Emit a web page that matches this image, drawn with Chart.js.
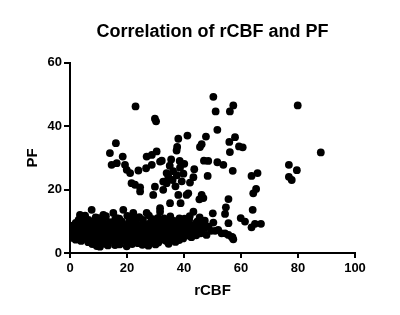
<!DOCTYPE html>
<html>
<head>
<meta charset="utf-8">
<script src="https://cdn.jsdelivr.net/npm/chart.js@4/dist/chart.umd.min.js"></script>
<style>
  body { margin: 0; background: #fff; }
  #wrap { width: 400px; height: 315px; }
</style>
</head>
<body>
<div id="wrap"><canvas id="scatterChart" width="400" height="315"></canvas></div>
<script>
// rCBF (x) vs PF (y), values as [rCBF, PF]

// dense band along the bottom
const bandPoints = [
    [3.5, 12.0], [7.6, 13.6], [11.7, 12.0], [15.2, 12.6], [18.7, 13.6], [22.2, 12.6], [26.9, 12.6], [31.6, 13.0],
    [5.3, 11.8], [9.0, 11.2], [12.6, 11.6], [16.4, 11.0], [20.1, 11.7], [24.3, 11.3], [27.7, 11.8], [30.9, 11.1],
    [35.2, 11.5], [38.4, 10.9], [42.0, 11.6], [45.5, 11.2],
    [4.4, 10.9], [10.1, 11.0], [17.3, 10.8], [22.6, 10.9], [29.1, 10.7], [33.0, 10.9], [40.2, 10.8],
    [3.0, 10.4], [6.5, 10.4], [8.7, 9.9], [11.3, 10.3], [13.9, 9.7], [15.8, 10.5], [18.2, 9.9], [20.9, 10.2],
    [23.1, 9.6], [25.6, 10.4], [28.4, 9.8], [31.2, 10.3], [33.7, 9.7], [36.5, 10.1], [39.3, 9.6], [41.8, 10.4],
    [44.6, 9.9], [47.3, 10.2],
    [2.0, 9.5], [4.4, 9.3], [6.6, 9.6], [9.1, 9.4], [11.4, 9.5], [13.6, 9.2], [16.0, 9.6], [18.4, 9.3],
    [21.0, 9.5], [23.3, 9.3], [25.7, 9.5], [28.1, 9.3], [30.7, 9.6], [33.1, 9.4], [35.8, 9.5], [38.5, 9.3],
    [41.4, 9.5], [44.2, 9.3], [46.9, 9.1],
    [0.8, 8.6], [3.0, 9.0], [5.4, 8.5], [7.9, 9.1], [10.2, 8.7], [12.5, 9.2], [14.7, 8.4], [17.1, 8.9],
    [19.6, 8.6], [22.2, 9.1], [24.4, 8.5], [26.9, 8.8], [29.5, 9.2], [32.1, 8.6], [34.6, 8.9], [37.2, 8.4],
    [40.1, 9.0], [42.9, 8.6], [45.8, 8.8], [48.6, 8.3],
    [1.8, 8.0], [4.0, 8.2], [6.4, 7.9], [8.8, 8.3], [11.1, 8.0], [13.4, 8.2], [15.8, 7.9], [18.2, 8.3],
    [20.6, 8.0], [23.1, 8.2], [25.6, 7.9], [28.2, 8.1], [30.8, 8.2], [33.4, 7.9], [36.1, 8.1], [38.8, 8.2],
    [41.5, 7.9], [44.3, 8.1], [47.2, 7.9],
    [0.4, 7.3], [2.5, 7.8], [4.6, 7.2], [6.9, 7.7], [9.3, 7.4], [11.6, 7.9], [13.5, 7.1], [15.9, 7.6],
    [18.4, 7.3], [20.7, 7.8], [23.0, 7.2], [25.3, 7.6], [27.8, 7.4], [30.4, 7.9], [32.8, 7.2], [35.5, 7.6],
    [38.0, 7.3], [40.8, 7.8], [43.5, 7.1], [46.4, 7.5], [49.5, 7.0],
    [2.1, 6.9], [4.4, 6.7], [6.8, 7.0], [9.2, 6.7], [11.5, 6.9], [13.9, 6.8], [16.4, 7.0], [18.8, 6.7],
    [21.3, 6.9], [23.7, 6.8], [26.1, 7.0], [28.6, 6.7], [31.2, 6.9], [33.8, 6.8], [36.4, 7.0], [39.1, 6.7],
    [41.9, 6.9], [44.7, 6.8],
    [1.1, 6.0], [3.4, 6.5], [5.8, 6.1], [8.1, 6.6], [10.6, 5.9], [12.9, 6.4], [15.2, 6.0], [17.6, 6.5],
    [19.9, 6.1], [22.4, 6.6], [24.8, 5.9], [27.2, 6.3], [29.7, 6.0], [32.3, 6.5], [34.9, 6.1], [37.6, 5.8],
    [40.3, 6.3], [43.0, 5.9], [45.9, 6.2],
    [1.9, 5.6], [4.3, 5.7], [6.6, 5.5], [9.0, 5.8], [11.4, 5.6], [13.8, 5.7], [16.1, 5.5], [18.5, 5.8],
    [20.8, 5.6], [23.2, 5.7], [25.6, 5.5], [28.1, 5.8], [30.6, 5.6], [33.2, 5.7], [35.9, 5.5], [38.6, 5.7],
    [41.4, 5.5], [44.3, 5.6],
    [0.6, 4.8], [2.8, 5.2], [5.1, 4.7], [7.5, 5.3], [9.8, 4.9], [12.2, 5.4], [14.4, 4.6], [16.8, 5.1],
    [19.2, 4.8], [21.5, 5.3], [23.9, 4.6], [26.4, 5.0], [28.9, 4.7], [31.5, 5.2], [34.0, 4.8], [36.8, 5.1],
    [39.7, 4.6], [42.6, 5.0],
    [2.0, 4.2], [4.4, 4.4], [6.9, 4.1], [9.5, 4.3], [12.0, 4.2], [14.6, 4.4], [17.2, 4.1], [19.8, 4.3],
    [22.4, 4.2], [25.0, 4.4], [27.6, 4.1], [30.2, 4.3], [32.8, 4.2], [35.5, 4.4], [38.3, 4.1],
    [3.9, 3.8], [6.4, 3.4], [8.8, 3.9], [11.1, 3.3], [13.7, 3.7], [16.0, 3.2], [18.6, 3.8], [21.0, 3.4],
    [23.6, 3.6], [26.1, 3.1], [28.4, 3.7], [31.0, 3.3], [33.8, 3.8], [37.0, 3.5],
    [7.8, 2.8], [12.2, 2.9], [17.4, 2.7], [21.8, 2.8], [25.4, 2.6], [30.0, 2.7], [34.6, 2.9],
    [9.4, 2.2], [10.5, 2.0], [13.3, 2.4], [15.8, 2.5], [19.9, 2.1], [23.9, 3.1], [27.5, 2.3]
];

// scattered points just above and right of the band
const midPoints = [
    [50.3, 9.6], [52.0, 7.3], [54.4, 6.2], [56.7, 5.1], [57.3, 4.3], [55.6, 9.4], [47.9, 5.7], [50.9, 7.0],
    [53.2, 6.2], [55.6, 5.7], [57.0, 5.0],
    [50.1, 12.5], [54.4, 12.3], [54.7, 14.4], [55.6, 17.0], [46.8, 17.3], [46.2, 18.3], [45.4, 16.9],
    [38.8, 15.7], [40.9, 18.3], [43.3, 13.0], [41.5, 18.8], [38.0, 18.3], [35.1, 15.7], [31.6, 14.1],
    [29.2, 18.3], [32.7, 19.9],
    [59.9, 11.0], [61.4, 9.9], [63.7, 8.1], [64.9, 9.2], [67.0, 9.2], [64.1, 13.6], [64.3, 18.8], [65.3, 20.2]
];

// upper cloud
const upperPoints = [
    [23.0, 46.2], [29.8, 42.3], [30.2, 41.5], [16.1, 34.6], [14.0, 31.5], [18.5, 30.4], [14.6, 27.8], [16.4, 28.3],
    [19.3, 27.8], [19.9, 26.2], [21.1, 25.2], [24.0, 26.0], [26.9, 30.4], [28.7, 30.9], [30.4, 32.0], [31.6, 28.8],
    [26.7, 26.7], [28.7, 27.8], [22.8, 21.5], [24.6, 20.7], [29.8, 20.9], [32.7, 22.5], [33.9, 25.2], [21.6, 22.0],
    [24.6, 19.4], [33.9, 22.0],
    [50.3, 49.2], [57.3, 46.5], [56.1, 44.6], [51.1, 44.6], [51.7, 38.8], [41.2, 37.0], [38.0, 36.0], [47.7, 36.7],
    [46.2, 34.3], [45.6, 33.4], [37.6, 33.4], [37.4, 32.3], [57.9, 36.5], [55.9, 35.0], [59.3, 33.6], [60.6, 33.3],
    [56.1, 31.8], [47.0, 29.1], [48.5, 29.0], [51.7, 28.6], [53.8, 27.8], [57.1, 25.9], [48.3, 24.3], [43.6, 26.4],
    [40.1, 28.1], [32.2, 29.1], [63.7, 24.3], [65.8, 25.2], [43.3, 23.9], [42.1, 22.2],
    [35.0, 27.5], [36.2, 25.8], [37.5, 24.5], [38.6, 26.9], [36.0, 23.0], [39.2, 22.6], [37.0, 21.0], [34.5, 24.0],
    [39.8, 25.0], [35.5, 29.5], [38.5, 29.0]
];

// far right outliers
const farPoints = [
    [79.9, 46.5], [88.0, 31.7], [76.8, 27.8], [79.6, 26.1], [76.8, 24.0], [77.8, 23.0]
];

const xTicks = [0, 20, 40, 60, 80, 100];
const yTicks = [0, 20, 40, 60];

const FONT = 'Liberation Sans, Arial, Helvetica, sans-serif';

document.addEventListener('DOMContentLoaded', function() {
    const ctx = document.getElementById('scatterChart');
    const allPoints = bandPoints.concat(midPoints, upperPoints, farPoints);

    new Chart(ctx, {
        type: 'scatter',
        data: {
            datasets: [{
                label: 'PF',
                data: allPoints.map(p => ({x: p[0], y: p[1]})),
                backgroundColor: '#000',
                borderWidth: 0,
                pointRadius: 3.9,
                pointHoverRadius: 3.9
            }]
        },
        options: {
            responsive: false,
            animation: false,
            layout: {
                padding: {top: 0, right: 45, bottom: 0, left: 0}
            },
            plugins: {
                legend: {display: false},
                tooltip: {enabled: false},
                title: {
                    display: true,
                    text: 'Correlation of rCBF and PF',
                    color: '#000',
                    fullSize: false,
                    font: {family: FONT, size: 18, weight: 'bold'},
                    padding: {top: 21, bottom: 20}
                }
            },
            scales: {
                x: {
                    type: 'linear',
                    position: 'bottom',
                    min: 0,
                    max: 100,
                    afterBuildTicks: s => { s.ticks = xTicks.map(v => ({value: v})); },
                    afterFit: s => { s.height = 62; },
                    border: {color: '#000', width: 2},
                    grid: {drawOnChartArea: false, color: '#000', lineWidth: 2, tickLength: 5},
                    ticks: {color: '#000', padding: 3, maxRotation: 0, font: {family: FONT, size: 13, weight: 'bold'}},
                    title: {
                        display: true,
                        text: 'rCBF',
                        color: '#000',
                        font: {family: FONT, size: 15, weight: 'bold'},
                        padding: {top: 0, bottom: 15}
                    }
                },
                y: {
                    type: 'linear',
                    position: 'left',
                    min: 0,
                    max: 60,
                    afterBuildTicks: s => { s.ticks = yTicks.map(v => ({value: v})); },
                    afterFit: s => { s.width = 70; },
                    border: {color: '#000', width: 2},
                    grid: {drawOnChartArea: false, color: '#000', lineWidth: 2, tickLength: 6},
                    ticks: {color: '#000', padding: 2, font: {family: FONT, size: 13, weight: 'bold'}},
                    title: {
                        display: true,
                        text: 'PF',
                        color: '#000',
                        font: {family: FONT, size: 15, weight: 'bold'},
                        padding: {top: 24, bottom: 0}
                    }
                }
            }
        }
    });
});
</script>
</body>
</html>
